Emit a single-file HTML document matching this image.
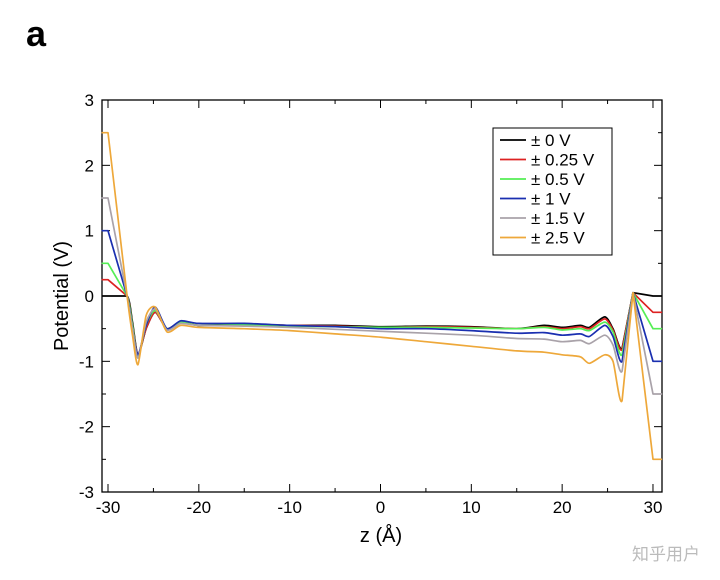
<!DOCTYPE html>
<html><head><meta charset="utf-8"><style>
body{margin:0;background:#fff;}
svg{display:block;font-family:"Liberation Sans","Noto Sans CJK SC",sans-serif;}
</style></head><body>
<svg id="chart" width="720" height="580">
<text x="26" y="46" font-size="36" font-weight="bold">a</text>
<rect x="102" y="100" width="560" height="392" fill="none" stroke="#000" stroke-width="1.3"/>
<g id="ticks"></g>
<g id="series"></g>
<text x="0" y="0" font-size="20" text-anchor="middle" transform="translate(68,296) rotate(-90)">Potential (V)</text>
<text x="381" y="542" font-size="20" text-anchor="middle">z (Å)</text>
<g id="legend">
<rect x="493" y="128" width="119" height="127" fill="#fff" stroke="#000" stroke-width="1"/>
</g>
<text x="700" y="560" font-size="17" fill="#bbb" text-anchor="end">知乎用户</text>
</svg>
<script>
const xs=[-30.7,-30,-27.9,-27.3,-26.7,-25.8,-24.8,-23.5,-22,-20,-15,-10,-5,0,5,10,15,18,20,22,23,24.7,25.6,26.6,27.8,30,31];
const s0=[0,0,0,-0.4,-0.9,-0.5,-0.25,-0.5,-0.4,-0.45,-0.43,-0.45,-0.45,-0.47,-0.46,-0.47,-0.5,-0.45,-0.48,-0.45,-0.48,-0.32,-0.5,-0.8,0.05,0,0];
const s025=[0.25,0.25,0,-0.45,-0.9,-0.5,-0.25,-0.5,-0.4,-0.45,-0.44,-0.45,-0.46,-0.48,-0.47,-0.48,-0.5,-0.47,-0.5,-0.47,-0.5,-0.35,-0.52,-0.82,0.05,-0.25,-0.25];
const s05=[0.5,0.5,0,-0.45,-0.92,-0.45,-0.22,-0.5,-0.4,-0.45,-0.44,-0.46,-0.47,-0.48,-0.48,-0.49,-0.5,-0.48,-0.52,-0.5,-0.53,-0.4,-0.55,-0.9,0.05,-0.5,-0.5];
const s1=[1,1,0,-0.5,-0.9,-0.45,-0.17,-0.5,-0.38,-0.42,-0.42,-0.45,-0.47,-0.5,-0.5,-0.53,-0.57,-0.56,-0.6,-0.58,-0.62,-0.45,-0.62,-1.0,0.05,-1,-1];
const s15=[1.5,1.5,0,-0.5,-0.95,-0.4,-0.2,-0.52,-0.42,-0.45,-0.46,-0.48,-0.51,-0.54,-0.57,-0.6,-0.65,-0.66,-0.7,-0.68,-0.73,-0.6,-0.75,-1.15,0.05,-1.5,-1.5];
const s25=[2.5,2.5,0,-0.6,-1.05,-0.3,-0.17,-0.55,-0.45,-0.48,-0.5,-0.53,-0.58,-0.63,-0.7,-0.77,-0.84,-0.86,-0.9,-0.93,-1.03,-0.9,-1.0,-1.6,0.05,-2.5,-2.5];
const seriesNames=["± 0 V","± 0.25 V","± 0.5 V","± 1 V","± 1.5 V","± 2.5 V"];
const xTicks=[-30,-20,-10,0,10,20,30];
const yTicks=[-3,-2,-1,0,1,2,3];
const allSeries=[s0,s025,s05,s1,s15,s25];
const colors=["#000","#d22","#5e5","#1a2fb0","#a9a2a9","#eea83a"];
const NS="http://www.w3.org/2000/svg";
const X=v=>108+(v+30)*9.083;
const Y=v=>296-v*65.33;
function mk(tag,attrs,parent){const e=document.createElementNS(NS,tag);for(const k in attrs)e.setAttribute(k,attrs[k]);parent.appendChild(e);return e;}
const tg=document.getElementById('ticks');
for(let v=-30;v<=30;v+=5){const x=X(v),L=v%10===0?8:4;
 let t=mk('line',{x1:x,x2:x,y1:492,y2:492-L,stroke:'#000'},tg);
 t=mk('line',{x1:x,x2:x,y1:100,y2:100+L,stroke:'#000'},tg);}
for(let v=-3;v<=3;v+=0.5){const y=Y(v),L=Number.isInteger(v)?8:4;
 let t=mk('line',{x1:102,x2:102+L,y1:y,y2:y,stroke:'#000'},tg);
 t=mk('line',{x1:662,x2:662-L,y1:y,y2:y,stroke:'#000'},tg);}
xTicks.forEach(v=>{const t=mk('text',{x:X(v),y:513,'font-size':17,'text-anchor':'middle'},tg);t.textContent=v;
 });
yTicks.forEach(v=>{const t=mk('text',{x:94,y:Y(v)+6,'font-size':17,'text-anchor':'end'},tg);t.textContent=v;
 });
function smoothPath(pts){const n=pts.length;let d='M'+pts[0][0].toFixed(1)+','+pts[0][1].toFixed(1);
 for(let i=0;i<n-1;i++){const p1=pts[i],p2=pts[i+1];
  if(i<2||i>=n-4){d+=' L'+p2[0].toFixed(1)+','+p2[1].toFixed(1);continue;}
  const p0=pts[i-1],p3=pts[i+2],t=0.12;
  const c1=[p1[0]+(p2[0]-p0[0])*t,p1[1]+(p2[1]-p0[1])*t],c2=[p2[0]-(p3[0]-p1[0])*t,p2[1]-(p3[1]-p1[1])*t];
  d+=' C'+c1.map(v=>v.toFixed(1)).join(',')+' '+c2.map(v=>v.toFixed(1)).join(',')+' '+p2.map(v=>v.toFixed(1)).join(',');}
 return d;}
const sg=document.getElementById('series');
allSeries.forEach((s,i)=>{const pts=s.map((v,j)=>[X(xs[j]),Y(v)]);
 const p=mk('path',{d:smoothPath(pts),fill:'none',stroke:colors[i],'stroke-width':1.7,'stroke-linejoin':'round'},sg);
 });
const lg=document.getElementById('legend');
seriesNames.forEach((n,i)=>{const y=140+i*19.5;
 const l=mk('line',{x1:500,x2:526,y1:y,y2:y,stroke:colors[i],'stroke-width':1.7},lg);
 
 const t=mk('text',{x:531,y:y+6,'font-size':17},lg);t.textContent=n;
 });
</script>
</body></html>
